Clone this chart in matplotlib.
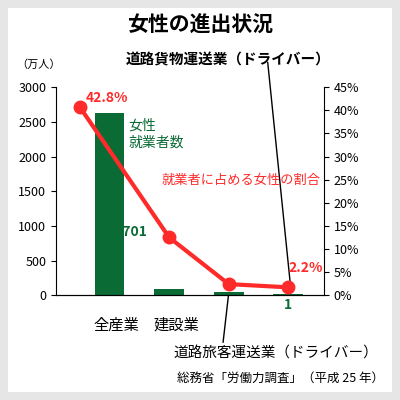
import matplotlib.pyplot as plt
from matplotlib.patches import Rectangle

plt.rcParams['font.family'] = ['Noto Sans CJK JP', 'DejaVu Sans']

categories = ["全産業", "建設業", "道路旅客運送業", "道路貨物運送業"]
workers = [2625, 85, 40, 12]
share_x = [-0.5, 1, 2, 3]
share = [40.7, 12.5, 2.4, 1.7]

fig = plt.figure(figsize=(4, 4), dpi=100)
fig.patch.set_facecolor("#e6e6e6")
fig.patches.append(Rectangle((0.02, 0.02), 0.96, 0.96, transform=fig.transFigure,
                             facecolor="white", edgecolor="none", zorder=-1))

ax = fig.add_axes([0.14, 0.262, 0.67, 0.52])
ax.set_facecolor("none")
ax.bar(range(4), workers, width=0.5, color="#0a6b35")
ax.set_xlim(-0.9, 3.6)
ax.set_ylim(0, 3000)
ax.set_yticks(range(0, 3001, 500))
ax.set_xticks([])
for s in ["top", "right"]:
    ax.spines[s].set_visible(False)
ax.tick_params(labelsize=9)

ax2 = ax.twinx()
ax2.plot(share_x, share, color="#ff2a2a", lw=3, marker="o", ms=9)
ax2.set_ylim(0, 45)
ax2.set_yticks(range(0, 46, 5))
ax2.set_yticklabels([f"{v}%" for v in range(0, 46, 5)])
ax2.tick_params(labelsize=9)
for s in ["top", "left"]:
    ax2.spines[s].set_visible(False)

fig.text(0.5, 0.92, "女性の進出状況", ha="center", fontsize=15, fontweight="bold")
fig.text(0.04, 0.83, "（万人）", fontsize=8)
fig.text(0.29, 0.175, "全産業", ha="center", fontsize=11)
fig.text(0.44, 0.175, "建設業", ha="center", fontsize=11)
fig.text(0.57, 0.84, "道路貨物運送業（ドライバー）", ha="center", fontsize=10.5, fontweight="bold")
fig.text(0.69, 0.105, "道路旅客運送業（ドライバー）", ha="center", fontsize=10.5)
fig.text(0.96, 0.045, "総務省「労働力調査」（平成 25 年）", ha="right", fontsize=9)

ax.text(0.32, 2150, "女性\n就業者数", color="#0a6b35", fontsize=10)
ax.text(0.35, 850, "2701", color="#0a6b35", fontsize=10, fontweight="bold", ha="center")
ax.text(3.0, -200, "1", color="#0a6b35", fontsize=10, fontweight="bold", ha="center")
ax2.text(-0.4, 41.8, "42.8%", color="#ff2a2a", fontsize=10, fontweight="bold")
ax2.text(3.3, 5, "2.2%", color="#ff2a2a", fontsize=10, fontweight="bold", ha="center")
ax2.text(2.2, 24, "就業者に占める女性の割合", color="#ff2a2a", fontsize=9.5, ha="center")

# pointer lines
ax.annotate("", xy=(3.05, 30), xytext=(2.65, 3400), annotation_clip=False,
            arrowprops=dict(arrowstyle="-", lw=1, color="black"))
ax.annotate("", xy=(2.0, 30), xytext=(1.9, -720), annotation_clip=False,
            arrowprops=dict(arrowstyle="-", lw=1, color="black"))

fig.savefig("out.png")
